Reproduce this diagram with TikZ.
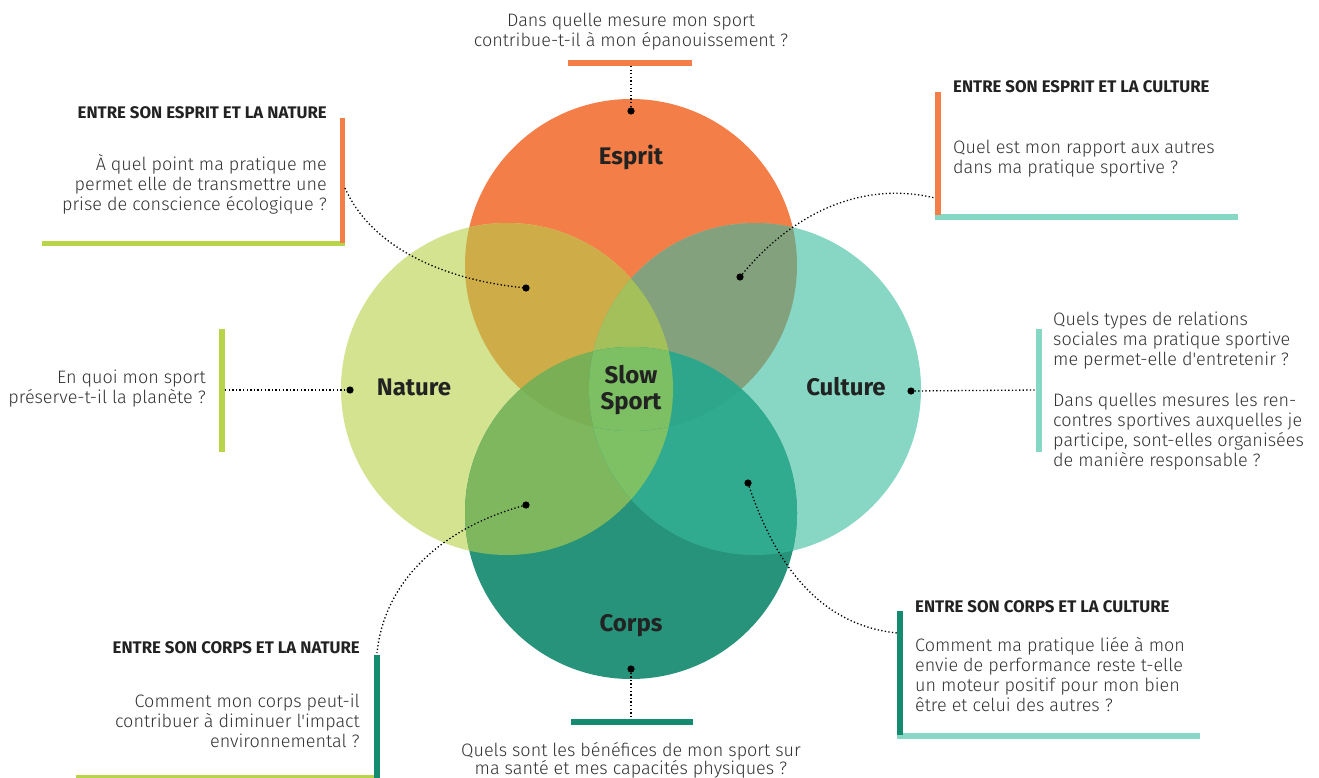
\documentclass[tikz,border=0pt]{standalone}
\usepackage{fontspec}
\setmainfont{Fira Sans}
\newfontfamily\lightfont{Fira Sans Light}
\definecolor{cE}{HTML}{F37E47}
\definecolor{cN}{HTML}{D3E38F}
\definecolor{cCu}{HTML}{87D7C4}
\definecolor{cCo}{HTML}{27937B}
\definecolor{cEN}{HTML}{CEAD48}
\definecolor{cECu}{HTML}{83A17D}
\definecolor{cNCo}{HTML}{7EB75E}
\definecolor{cCuCo}{HTML}{30AB8F}
\definecolor{cENCu}{HTML}{A3C05B}
\definecolor{cECoN}{HTML}{7AAF56}
\definecolor{cECoCu}{HTML}{2DA68B}
\definecolor{cNCuCo}{HTML}{7EC165}
\definecolor{cAll}{HTML}{7DBF63}
\definecolor{bOr}{HTML}{F37E47}
\definecolor{bGr}{HTML}{B8D449}
\definecolor{bTe}{HTML}{86D7C4}
\definecolor{bDk}{HTML}{148B6E}
\definecolor{txt}{HTML}{333333}
\definecolor{hd}{HTML}{222222}
\begin{document}
\begin{tikzpicture}[x=1pt,y=-1pt,
  dotline/.style={line width=1.3pt, dash pattern=on 1.3pt off 2.3pt, black},
  body/.style={font=\lightfont\fontsize{18}{20}\selectfont, text=txt, inner sep=0pt},
  head/.style={font=\bfseries\fontsize{16.8}{19}\selectfont, text=hd, inner sep=0pt},
  lbl/.style={font=\bfseries\fontsize{24}{26}\selectfont, text=hd, inner sep=0pt, align=center},
  dotmark/.style={fill=black}]
\fill[white] (0,0) rectangle (1319,778);
\useasboundingbox (0,0) rectangle (1319,778);
% circle centres
\coordinate (E) at (631,265);
\coordinate (N) at (507,389);
\coordinate (Cu) at (755,389);
\coordinate (Co) at (631,513);
\def\R{166pt}
% single circles
\fill[cE] (E) circle (\R);
\fill[cN] (N) circle (\R);
\fill[cCu] (Cu) circle (\R);
\fill[cCo] (Co) circle (\R);
% pairs
\begin{scope}\clip (E) circle (\R); \fill[cEN] (N) circle (\R); \end{scope}
\begin{scope}\clip (E) circle (\R); \fill[cECu] (Cu) circle (\R); \end{scope}
\begin{scope}\clip (N) circle (\R); \fill[cNCo] (Co) circle (\R); \end{scope}
\begin{scope}\clip (Cu) circle (\R); \fill[cCuCo] (Co) circle (\R); \end{scope}
% triples
\begin{scope}\clip (N) circle (\R); \clip (Cu) circle (\R); \fill[cENCu] (E) circle (\R); \end{scope}
\begin{scope}\clip (N) circle (\R); \clip (Cu) circle (\R); \fill[cNCuCo] (Co) circle (\R); \end{scope}
\begin{scope}\clip (E) circle (\R); \clip (Co) circle (\R); \fill[cECoN] (N) circle (\R); \end{scope}
\begin{scope}\clip (E) circle (\R); \clip (Co) circle (\R); \fill[cECoCu] (Cu) circle (\R); \end{scope}
% all four
\begin{scope}\clip (E) circle (\R); \clip (Co) circle (\R); \clip (N) circle (\R); \fill[cAll] (Cu) circle (\R); \end{scope}

% circle labels
\node[lbl, anchor=base] (lE) at (631,165) {Esprit};
\node[lbl, anchor=base] (lN) at (414,395) {Nature};
\node[lbl, anchor=base] (lCu) at (846,395) {Culture};
\node[lbl, anchor=base] (lCo) at (631,631) {Corps};
\node[lbl, anchor=north] (lS) at (631,361) {\rule{0pt}{22pt}Slow\\Sport};

% bars
\fill[bOr] (568,60) rectangle (692,66);
\fill[bGr] (42,241) rectangle (345,246);
\fill[bOr] (340,118) rectangle (345,243);
\fill[bTe] (935,214) rectangle (1238,220);
\fill[bOr] (935,92) rectangle (941,215);
\fill[bGr] (219,329) rectangle (225,452);
\fill[bTe] (1036,329) rectangle (1042,452);
\fill[bGr] (76,775) rectangle (380,781);
\fill[bDk] (374,655) rectangle (380,778);
\fill[bDk] (571,719) rectangle (693,725);
\fill[bTe] (897,733) rectangle (1200,739);
\fill[bDk] (897,611) rectangle (903,735);

% anchor points
\coordinate (bTop) at (631,66);  \coordinate (dE) at (631,111);
\coordinate (bTL) at (345,188);  \coordinate (dEN) at (526,288);
\coordinate (bTR) at (935,198);  \coordinate (dECu) at (740,277);
\coordinate (bL) at (225,390);   \coordinate (dN) at (350,390);
\coordinate (bR) at (1036,390);  \coordinate (dCu) at (911,391);
\coordinate (bBL) at (377,653);  \coordinate (dNCo) at (526,505);
\coordinate (bB) at (631,719);   \coordinate (dCo) at (631,669);
\coordinate (bBR) at (897,633);  \coordinate (dCuCo) at (748,483);

% connectors
\draw[dotline] (bTop) -- (dE);
\draw[dotline] (bTL) .. controls (370,245) and (440,280) .. (dEN);
\draw[dotline] (dECu) .. controls (790,215) and (860,180) .. (bTR);
\draw[dotline] (bL) -- (dN);
\draw[dotline] (dCu) -- (bR);
\draw[dotline] (dNCo) .. controls (450,525) and (385,575) .. (bBL);
\draw[dotline] (dCo) -- (bB);
\draw[dotline] (dCuCo) .. controls (775,565) and (820,625) .. (bBR);

\foreach \d in {dE,dEN,dECu,dN,dCu,dNCo,dCo,dCuCo} \fill[dotmark] (\d) circle (3.6pt);

% headings
\node[head, anchor=base east] (hTL) at (327,119) {ENTRE SON ESPRIT ET LA NATURE};
\node[head, anchor=base west] (hTR) at (953,93) {ENTRE SON ESPRIT ET LA CULTURE};
\node[head, anchor=base east] (hBL) at (360,653) {ENTRE SON CORPS ET LA NATURE};
\node[head, anchor=base west] (hBR) at (915,612) {ENTRE SON CORPS ET LA CULTURE};

% body texts
\node[body, align=center, anchor=north] (tTop) at (631,7) {\rule{0pt}{19pt}Dans quelle mesure mon sport\\contribue-t-il à mon épanouissement ?};
\node[body, align=right, anchor=north east] (tTL) at (327,151) {\rule{0pt}{19pt}À quel point ma pratique me\\permet elle de transmettre une\\prise de conscience écologique ?};
\node[body, align=left, anchor=north west] (tTR) at (953,134) {\rule{0pt}{19pt}Quel est mon rapport aux autres\\dans ma pratique sportive ?};
\node[body, align=right, anchor=north east] (tL) at (206,364) {\rule{0pt}{19pt}En quoi mon sport\\préserve-t-il la planète ?};
\node[body, align=left, anchor=north west] (tR) at (1053,306) {\rule{0pt}{19pt}Quels types de relations\\sociales ma pratique sportive\\me permet-elle d'entretenir ?\\[21pt]Dans quelles mesures les ren-\\contres sportives auxquelles je\\participe, sont-elles organisées\\de manière responsable ?};
\node[body, align=right, anchor=north east] (tBL) at (360,688) {\rule{0pt}{19pt}Comment mon corps peut-il\\contribuer à diminuer l'impact\\environnemental ?};
\node[body, align=center, anchor=north, font=\lightfont\fontsize{18}{18}\selectfont] (tB) at (631,737) {\rule{0pt}{19pt}Quels sont les bénéfices de mon sport sur\\ma santé et mes capacités physiques ?};
\node[body, align=left, anchor=north west] (tBR) at (915,632) {\rule{0pt}{19pt}Comment ma pratique liée à mon\\envie de performance reste t-elle\\un moteur positif pour mon bien\\être et celui des autres ?};
\end{tikzpicture}
\end{document}
